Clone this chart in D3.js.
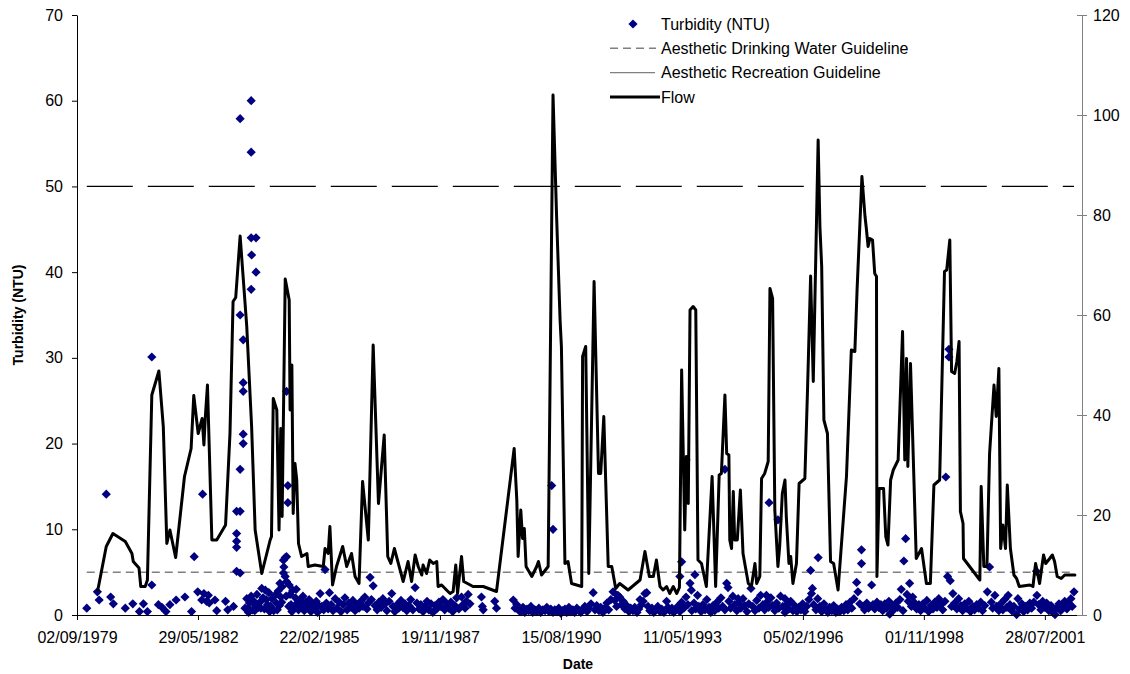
<!DOCTYPE html>
<html>
<head>
<meta charset="utf-8">
<script src="https://cdn.jsdelivr.net/npm/d3@7"></script>
<style>
  body { margin: 0; background: #fff; }
  svg text { font-family: "Liberation Sans", Arial, Helvetica, sans-serif; }
</style>
</head>
<body>
<svg id="chart" width="1130" height="674"></svg>
<script>
// ---------------- DATA ----------------
const xTickStart = [1979, 8, 2];      // 02/09/1979 (UTC y, m0, d)
const xTickStepDays = 1000;
const xTickCount = 9;
const xDomainEnd = [2002, 4, 31];
const turbTicks = [0, 10, 20, 30, 40, 50, 60, 70];
const flowTicks = [0, 20, 40, 60, 80, 100, 120];
const drinkingGuideline = 5;     // NTU
const recreationGuideline = 50;  // NTU
const legendLabels = ["Turbidity (NTU)", "Aesthetic Drinking Water Guideline", "Aesthetic Recreation Guideline", "Flow"];
const yTitle = "Turbidity (NTU)";
const xTitle = "Date";

// flow: [decimal year, flow]
const flow = [
[1980.14,5],[1980.33,13.7],[1980.48,16.3],[1980.76,14.7],[1980.91,12.3],[1980.94,10.7],[1981.07,9.4],[1981.11,5.7],[1981.21,5.7],[1981.26,7],
[1981.36,44],[1981.52,48.8],[1981.62,37.7],[1981.70,14.3],[1981.77,17],[1981.90,11.5],[1982.10,27.7],[1982.25,33.3],[1982.31,43.9],[1982.41,36.3],
[1982.50,39.3],[1982.54,34],[1982.57,39.3],[1982.62,46],[1982.72,15],[1982.83,15],[1983.03,18],[1983.13,36.3],[1983.20,62.7],[1983.26,63.5],
[1983.36,75.8],[1983.51,57.7],[1983.62,37.7],[1983.70,17],[1983.85,8.3],[1984.04,15],[1984.07,15.7],[1984.11,43.3],[1984.19,41],[1984.24,17],
[1984.28,37.3],[1984.31,19.7],[1984.38,67.2],[1984.47,63],[1984.49,41],[1984.53,50],[1984.56,20.3],[1984.60,30.3],[1984.64,27],[1984.68,14.3],
[1984.75,11.7],[1984.87,12.3],[1984.90,9.7],[1985.05,10],[1985.24,9.7],[1985.28,13.3],[1985.35,12.3],[1985.39,17.7],[1985.45,6],[1985.54,9.7],
[1985.68,13.7],[1985.77,9.7],[1985.88,12.3],[1985.96,7.7],[1986.05,6.3],[1986.13,26.7],[1986.26,15],[1986.37,54],[1986.49,22.3],[1986.62,36],
[1986.70,11.7],[1986.77,10.3],[1986.85,13.3],[1987.05,6.7],[1987.16,10.7],[1987.24,6.7],[1987.32,12],[1987.39,9.7],[1987.47,8],[1987.50,10],
[1987.58,8.3],[1987.65,11],[1987.73,10.3],[1987.81,10.7],[1987.84,5.7],[1987.92,6],[1988.03,5],[1988.11,4.3],[1988.18,4.7],[1988.24,10],
[1988.28,4.3],[1988.37,11.7],[1988.42,6.7],[1988.63,5.7],[1988.86,5.7],[1989.16,4.7],[1989.56,33.3],[1989.62,23],[1989.65,11.7],[1989.71,21],
[1989.75,15.3],[1989.79,17.3],[1989.83,9.7],[1989.96,7.7],[1990.07,9.7],[1990.11,10.7],[1990.18,8],[1990.33,9.7],[1990.44,104],[1990.52,80],
[1990.60,59],[1990.63,53.7],[1990.71,10.3],[1990.78,10.7],[1990.86,6.3],[1991.09,5.7],[1991.11,51.7],[1991.18,53.7],[1991.25,8.3],[1991.37,66.7],
[1991.47,28.3],[1991.52,28.3],[1991.59,39.7],[1991.69,9.7],[1991.77,9.7],[1991.86,5.3],[1991.95,6.3],[1992.14,5],[1992.41,7],[1992.52,12.7],
[1992.62,7.7],[1992.71,7.7],[1992.78,11],[1992.86,5.7],[1992.93,5],[1993.01,5.7],[1993.08,4.3],[1993.16,5.7],[1993.24,4.3],[1993.30,5.5],
[1993.35,49],[1993.42,17],[1993.46,31.7],[1993.50,22.3],[1993.54,61],[1993.61,61.7],[1993.67,61],[1993.72,11],[1993.80,10.3],[1993.91,5.7],
[1994.04,27.7],[1994.12,5.7],[1994.20,28],[1994.25,28.3],[1994.33,44],[1994.37,32.3],[1994.42,32],[1994.44,15],[1994.48,13.3],[1994.52,24.7],
[1994.55,15],[1994.61,15],[1994.68,25],[1994.74,12.3],[1994.86,6.3],[1994.93,5.7],[1995.01,10.3],[1995.05,6.3],[1995.12,7.7],[1995.16,27.3],
[1995.23,28.3],[1995.31,30.7],[1995.35,65.3],[1995.41,63.3],[1995.46,21],[1995.53,9.7],[1995.57,13.7],[1995.63,24.3],[1995.69,27],[1995.72,19.7],
[1995.78,10.3],[1995.82,11.7],[1995.87,6.3],[1995.95,10.3],[1996.01,26.3],[1996.14,27.3],[1996.20,45],[1996.27,67.8],[1996.33,46.7],[1996.44,95],
[1996.48,77.7],[1996.52,69.7],[1996.57,39],[1996.65,36.3],[1996.72,10.7],[1996.79,10.3],[1996.89,5],[1997.08,27.7],[1997.19,53],[1997.27,52.7],
[1997.32,65],[1997.43,87.7],[1997.50,79.7],[1997.53,77.3],[1997.57,73.7],[1997.61,75.3],[1997.67,75],[1997.72,68.3],[1997.76,67.7],[1997.77,7.7],
[1997.82,25.3],[1997.92,25.3],[1997.97,15.7],[1998.02,14],[1998.08,27],[1998.14,29],[1998.25,31],[1998.35,56.7],[1998.40,31],[1998.44,51.3],
[1998.47,29.7],[1998.53,50.3],[1998.66,11.3],[1998.78,13.3],[1998.89,6.3],[1998.98,6.3],[1999.06,26],[1999.19,27],[1999.30,68.7],[1999.35,69],
[1999.42,75],[1999.46,48.7],[1999.53,48.3],[1999.58,50.7],[1999.63,54.7],[1999.66,20.7],[1999.72,18.3],[1999.73,11.3],[2000.10,7],[2000.13,25.7],
[2000.19,9.7],[2000.26,9.7],[2000.32,32.3],[2000.42,46],[2000.47,39.7],[2000.53,49.3],[2000.57,13.3],[2000.62,18],[2000.68,13.3],[2000.72,26],
[2000.79,13.3],[2000.87,8],[2000.93,7.3],[2000.99,5.7],[2001.23,6],[2001.30,5.7],[2001.36,10.3],[2001.45,6.3],[2001.54,12],[2001.59,10.3],
[2001.68,11.3],[2001.74,12],[2001.79,10.7],[2001.85,7.7],[2001.94,7.3],[2002.02,8],[2002.25,8]
];

// turbidity: [decimal year, NTU]
const turbidity = [
[1979.89,0.8],[1980.13,2.7],[1980.17,1.75],[1980.33,14.1],[1980.43,2.1],[1980.49,1.3],[1980.76,0.8],[1980.93,1.3],[1981.08,0.4],[1981.17,1.3],
[1981.26,0.4],[1981.36,30.1],[1981.36,3.5],[1981.51,1.2],[1981.59,0.9],[1981.68,0.4],[1981.77,1.2],[1981.91,1.75],[1982.11,2.1],[1982.26,0.4],
[1982.32,6.8],[1982.40,2.7],[1982.49,1.75],[1982.51,14.1],[1982.54,2.5],[1982.60,1.6],[1982.64,2.3],[1982.66,1.4],[1982.79,1.75],[1982.83,0.5],
[1983.03,1.6],[1983.08,0.6],[1983.21,1.0],
[1983.28,12.1],[1983.28,9.5],[1983.28,8.6],[1983.28,7.9],[1983.28,5.1],[1983.36,4.9],[1983.36,12.1],[1983.36,17],[1983.36,35],[1983.36,57.9],
[1983.43,20],[1983.43,21.1],[1983.43,26.1],[1983.43,27.1],[1983.43,32.1],[1983.61,60],[1983.61,54],[1983.61,44],[1983.61,38],[1983.62,42],
[1983.72,44],[1983.72,40],
[1983.47,0.8],[1983.51,1.9],[1983.54,0.8],[1983.55,0.3],[1983.57,1.4],[1983.61,2.2],[1983.64,0.6],[1983.67,1.6],[1983.69,0.5],[1983.71,1.1],
[1983.74,2.4],[1983.78,0.9],[1983.81,1.5],[1983.83,0.8],[1983.85,3.1],[1983.88,2.0],[1983.91,0.7],[1983.93,2.9],[1983.95,1.8],[1983.98,1.2],
[1984.01,2.6],[1984.03,0.4],[1984.05,1.0],[1984.08,1.9],[1984.12,0.5],[1984.15,2.3],[1984.18,1.4],[1984.20,0.6],[1984.22,2.8],[1984.25,1.1],
[1984.26,3.7],[1984.28,2.1],[1984.30,1.5],[1984.31,3.3],[1984.34,6.4],[1984.34,4.9],[1984.35,5.6],[1984.38,4.5],[1984.38,6.7],[1984.40,2.2],
[1984.41,3.9],[1984.41,6.8],[1984.41,26.1],[1984.44,13.1],[1984.44,15.1],[1984.46,1.0],[1984.47,3.5],[1984.49,2.4],[1984.51,1.2],[1984.53,0.4],
[1984.55,2.9],[1984.58,0.9],[1984.61,2.0],[1984.63,3.0],[1984.65,1.4],[1984.68,0.6],[1984.71,1.7],
[1984.74,1.1],[1984.78,2.2],[1984.81,0.5],[1984.85,1.5],[1984.88,0.9],[1984.92,1.8],[1984.96,0.4],[1984.99,1.3],[1985.03,0.8],[1985.08,1.6],
[1985.11,0.3],[1985.14,1.1],[1985.17,2.5],[1985.21,1.0],[1985.25,0.6],[1985.28,5.3],[1985.31,1.4],[1985.35,0.7],[1985.38,2.6],[1985.42,1.2],
[1985.46,0.5],[1985.51,1.9],[1985.55,0.8],[1985.60,1.5],[1985.64,0.4],[1985.69,1.2],[1985.73,2.0],[1985.78,0.6],[1985.82,1.4],[1985.87,0.9],
[1985.91,1.7],[1985.96,0.5],[1986.00,1.2],[1986.05,0.8],[1986.09,1.6],[1986.14,1.0],[1986.18,2.1],[1986.23,0.7],[1986.26,1.4],[1986.30,4.4],
[1986.33,1.8],[1986.37,3.4],[1986.41,1.1],[1986.46,0.6],[1986.50,1.5],[1986.55,0.9],[1986.59,1.9],[1986.64,1.3],[1986.68,0.5],[1986.73,1.6],
[1986.79,2.5],[1986.82,1.0],[1986.86,0.4],[1986.91,1.2],[1986.95,0.8],[1987.00,1.7],[1987.04,0.9],[1987.09,1.3],[1987.13,0.5],[1987.18,1.1],
[1987.22,1.8],[1987.27,0.6],[1987.32,3.2],[1987.36,1.4],[1987.41,0.7],[1987.45,1.2],[1987.50,0.4],[1987.54,1.0],[1987.59,1.6],[1987.63,0.6],
[1987.68,1.3],[1987.72,0.3],[1987.77,1.1],[1987.81,0.7],[1987.86,1.5],
[1987.90,1.0],[1987.95,1.8],[1987.99,0.6],[1988.04,1.3],[1988.08,0.8],[1988.13,1.5],[1988.17,0.4],[1988.22,1.1],[1988.26,2.0],[1988.31,0.7],
[1988.37,2.1],[1988.40,1.2],[1988.45,0.8],[1988.48,1.6],[1988.52,2.4],[1988.56,1.3],[1988.82,2.1],[1988.84,1.0],[1988.86,0.6],[1989.12,1.6],
[1989.16,0.8],[1989.54,1.75],[1989.58,0.8],[1989.62,1.2],[1989.67,0.5],
[1989.71,0.4],[1989.76,0.9],[1989.80,0.3],[1989.85,0.7],[1989.89,0.5],[1989.94,1.0],[1989.98,0.3],[1990.03,0.6],[1990.07,0.4],[1990.12,0.8],
[1990.16,0.3],[1990.21,0.6],[1990.26,0.5],[1990.30,0.9],[1990.35,0.4],[1990.39,0.7],[1990.41,15.1],[1990.44,0.3],[1990.44,10.0],[1990.48,0.6],
[1990.53,0.4],[1990.57,0.8],[1990.62,0.2],[1990.66,0.5],[1990.71,0.7],[1990.75,0.3],[1990.80,0.9],[1990.84,0.4],[1990.89,0.6],[1990.93,0.3],
[1990.98,0.8],[1991.03,0.5],[1991.07,0.3],[1991.12,0.7],[1991.16,1.0],[1991.21,0.4],[1991.25,0.8],[1991.30,1.3],[1991.35,2.6],[1991.39,0.6],
[1991.43,1.1],[1991.48,0.5],[1991.52,0.9],[1991.57,0.3],[1991.61,0.8],[1991.66,1.4],[1991.70,0.6],[1991.75,1.8],[1991.80,2.7],[1991.84,1.7],
[1991.88,1.0],[1991.91,2.3],[1991.95,2.1],[1991.99,1.2],[1992.03,1.6],[1992.07,0.7],[1992.11,1.1],[1992.16,0.4],[1992.20,0.8],[1992.25,0.5],
[1992.29,0.9],[1992.34,0.3],[1992.38,0.7],[1992.41,1.8],[1992.44,1.2],[1992.48,1.6],[1992.52,2.5],[1992.56,2.6],[1992.59,1.0],[1992.63,0.5],
[1992.68,0.8],[1992.72,0.3],[1992.77,0.6],[1992.81,1.0],[1992.86,0.4],[1992.90,0.7],[1992.95,0.3],[1993.01,1.6],[1993.04,0.9],[1993.08,0.5],
[1993.13,0.8],[1993.17,0.3],[1993.22,0.6],[1993.26,1.0],[1993.31,0.4],
[1993.31,4.5],[1993.35,6.2],[1993.35,1.5],[1993.40,0.8],[1993.45,18.1],[1993.45,2.1],[1993.49,1.2],[1993.54,3.7],[1993.57,2.9],[1993.58,0.5],
[1993.63,1.4],[1993.65,4.7],[1993.67,0.7],[1993.71,2.3],[1993.74,1.0],[1993.79,0.4],[1993.83,1.2],[1993.88,0.6],[1993.92,1.8],[1993.97,0.9],
[1994.01,0.3],[1994.06,1.1],[1994.10,0.5],[1994.15,1.5],[1994.19,0.8],[1994.24,2.0],[1994.28,1.0],[1994.33,17.0],[1994.33,0.6],[1994.37,3.7],
[1994.40,3.2],[1994.42,1.6],[1994.46,0.8],[1994.51,2.2],[1994.55,1.2],[1994.60,0.5],[1994.63,1.9],[1994.64,1.4],[1994.69,0.8],[1994.74,1.9],
[1994.78,1.1],[1994.83,0.4],[1994.87,1.3],[1994.92,3.1],[1994.96,1.0],[1995.01,0.5],[1995.05,1.7],[1995.10,0.8],[1995.14,2.3],[1995.19,1.2],
[1995.23,0.6],[1995.27,2.3],[1995.28,1.5],[1995.32,0.9],[1995.33,13.1],[1995.37,2.0],[1995.41,1.1],[1995.46,0.5],[1995.50,1.4],[1995.53,11.1],
[1995.55,0.8],[1995.59,2.2],[1995.64,1.0],[1995.69,0.3],[1995.69,1.9],[1995.73,1.2],[1995.78,0.7],[1995.82,1.6],[1995.87,0.5],[1995.91,1.1],
[1995.96,0.4],[1996.00,0.9],
[1996.05,0.6],[1996.09,1.3],[1996.14,0.4],[1996.18,1.0],[1996.23,1.8],[1996.27,5.2],[1996.29,2.5],[1996.31,3.1],[1996.34,1.2],[1996.39,0.6],
[1996.43,1.9],[1996.44,6.7],[1996.48,1.0],[1996.52,0.4],[1996.57,1.3],[1996.61,0.7],[1996.66,0.3],[1996.70,0.9],[1996.75,0.5],[1996.79,1.1],
[1996.84,0.3],[1996.88,0.7],[1996.93,0.4],[1996.97,0.9],[1997.02,0.5],[1997.07,1.2],[1997.11,0.6],[1997.16,1.5],[1997.20,0.8],[1997.25,1.9],
[1997.31,3.8],[1997.34,2.7],[1997.38,1.3],[1997.42,7.6],[1997.42,6.0],[1997.45,1.0],[1997.49,0.6],[1997.54,1.4],[1997.58,0.8],[1997.65,3.5],
[1997.68,1.2],[1997.72,0.7],[1997.77,1.5],[1997.81,0.9],[1997.86,1.2],[1997.90,0.5],[1997.95,1.3],[1997.99,0.8],[1998.04,1.6],[1998.06,0.1],
[1998.11,1.1],[1998.15,0.6],[1998.20,1.4],[1998.24,0.9],[1998.29,1.8],[1998.32,3.0],[1998.36,0.5],[1998.38,6.3],[1998.42,8.9],[1998.45,2.4],
[1998.48,1.6],[1998.51,3.7],[1998.55,1.0],[1998.58,2.1],[1998.63,1.4],[1998.67,0.7],[1998.72,1.2],
[1998.76,0.5],[1998.81,1.3],[1998.85,0.8],[1998.90,1.7],[1998.94,0.4],[1998.99,1.1],[1999.04,0.7],[1999.08,1.5],[1999.13,0.9],[1999.17,1.9],
[1999.22,1.2],[1999.26,0.6],[1999.31,1.6],[1999.33,16.1],[1999.37,4.5],[1999.40,31.0],[1999.40,30.1],[1999.43,4.0],[1999.46,1.0],[1999.49,2.5],
[1999.53,1.4],[1999.58,0.7],[1999.62,1.9],[1999.67,1.1],[1999.71,0.5],[1999.76,1.3],[1999.80,0.8],[1999.85,1.6],[1999.89,0.4],[1999.94,1.0],
[1999.98,0.6],[2000.03,1.2],[2000.07,0.8],[2000.12,1.5],[2000.16,0.5],[2000.21,1.1],[2000.27,2.7],[2000.32,5.6],[2000.36,1.5],[2000.39,0.8],
[2000.44,2.3],[2000.48,1.0],[2000.53,0.5],
[2000.57,1.3],[2000.62,0.6],[2000.66,1.8],[2000.71,0.9],[2000.74,2.3],[2000.78,1.2],[2000.82,0.5],[2000.87,1.0],[2000.93,0.05],[2000.96,1.9],
[2001.00,0.7],[2001.05,1.3],[2001.09,0.4],[2001.14,1.0],[2001.18,0.6],[2001.23,1.4],[2001.27,0.8],[2001.32,1.5],[2001.38,5.1],[2001.39,2.3],
[2001.43,1.2],[2001.48,0.6],[2001.52,1.6],[2001.57,0.9],[2001.61,1.4],[2001.66,0.5],[2001.71,1.1],[2001.75,0.3],[2001.80,0.05],[2001.84,0.8],
[2001.89,1.3],[2001.93,0.5],[2001.98,1.0],[2002.02,1.6],[2002.07,0.7],[2002.11,1.3],[2002.16,1.9],[2002.19,1.0],[2002.23,2.7]
];

// ---------------- CHART ----------------
const W = 1130, H = 674;
const margin = { left: 77, top: 15, right: 48, bottom: 59 };
const plotW = W - margin.left - margin.right;   // 1005
const plotH = H - margin.top - margin.bottom;   // 600

const toDate = y => {
  const Y = Math.floor(y);
  const s = Date.UTC(Y, 0, 1), e = Date.UTC(Y + 1, 0, 1);
  return new Date(s + (y - Y) * (e - s));
};

const startDate = new Date(Date.UTC(...xTickStart));
const endDate = new Date(Date.UTC(...xDomainEnd));
const x = d3.scaleUtc().domain([startDate, endDate]).range([margin.left, margin.left + plotW]);
const yL = d3.scaleLinear().domain([0, 70]).range([margin.top + plotH, margin.top]);
const yR = d3.scaleLinear().domain([0, 120]).range([margin.top + plotH, margin.top]);

const svg = d3.select("#chart");
svg.append("rect").attr("width", W).attr("height", H).attr("fill", "#fff");

const xTickVals = d3.range(xTickCount).map(k => d3.utcDay.offset(startDate, k * xTickStepDays));
const fmt = d3.utcFormat("%d/%m/%Y");

// guidelines span the turbidity sampling period
const tExt = d3.extent(turbidity, d => d[0]).map(toDate);

svg.append("line")
  .attr("x1", x(tExt[0])).attr("x2", x(tExt[1]))
  .attr("y1", yL(drinkingGuideline)).attr("y2", yL(drinkingGuideline))
  .attr("stroke", "#808080").attr("stroke-width", 1.5).attr("stroke-dasharray", "8,5");

svg.append("line")
  .attr("x1", x(tExt[0])).attr("x2", x(tExt[1]))
  .attr("y1", yL(recreationGuideline)).attr("y2", yL(recreationGuideline))
  .attr("stroke", "#000").attr("stroke-width", 1.2).attr("stroke-dasharray", "46,15");

// turbidity diamonds
const diamond = r => `M0,${-r}L${r},0L0,${r}L${-r},0Z`;
svg.append("g").selectAll("path")
  .data(turbidity).join("path")
  .attr("d", diamond(4.6))
  .attr("transform", d => `translate(${x(toDate(d[0]))},${yL(d[1])})`)
  .attr("fill", "#000080");

// flow line
const line = d3.line().x(d => x(toDate(d[0]))).y(d => yR(d[1]));
svg.append("path").datum(flow)
  .attr("d", line).attr("fill", "none")
  .attr("stroke", "#000").attr("stroke-width", 3)
  .attr("stroke-linejoin", "round").attr("stroke-linecap", "round");

// axes
const axisFont = g => g.selectAll("text").attr("font-size", 16).attr("fill", "#000")
  .attr("font-family", '"Liberation Sans", Arial, sans-serif');

const gL = svg.append("g").attr("transform", `translate(${margin.left},0)`)
  .call(d3.axisLeft(yL).tickValues(turbTicks).tickSize(5).tickSizeOuter(0).tickPadding(9))
  .call(axisFont);
gL.selectAll("path,line").attr("stroke", "#000");

const gB = svg.append("g").attr("transform", `translate(0,${margin.top + plotH})`)
  .call(d3.axisBottom(x).tickValues(xTickVals).tickFormat(fmt).tickSize(5).tickSizeOuter(0).tickPadding(12))
  .call(axisFont);
gB.selectAll("path,line").attr("stroke", "#000");

const gR = svg.append("g").attr("transform", `translate(${margin.left + plotW},0)`)
  .call(d3.axisRight(yR).tickValues(flowTicks).tickSize(5).tickSizeOuter(0).tickPadding(6))
  .call(axisFont);
gR.selectAll("path,line").attr("stroke", "#808080");
gR.selectAll(".tick line").attr("x1", -5).attr("x2", 5);

// titles
svg.append("text")
  .attr("transform", `translate(23,315) rotate(-90)`)
  .attr("text-anchor", "middle").attr("font-size", 14).attr("font-weight", "bold")
  .text(yTitle);
svg.append("text")
  .attr("x", 578).attr("y", 669)
  .attr("text-anchor", "middle").attr("font-size", 14).attr("font-weight", "bold")
  .text(xTitle);

// legend
const lg = svg.append("g");
const lgX = 661, rowsY = [24, 48.3, 72.6, 97];
lg.append("path").attr("d", diamond(4.6)).attr("transform", `translate(633,${rowsY[0]})`).attr("fill", "#000080");
lg.append("line").attr("x1", 610).attr("x2", 656).attr("y1", rowsY[1]).attr("y2", rowsY[1])
  .attr("stroke", "#808080").attr("stroke-width", 1.5).attr("stroke-dasharray", "8,5");
lg.append("line").attr("x1", 610).attr("x2", 655).attr("y1", rowsY[2]).attr("y2", rowsY[2])
  .attr("stroke", "#808080").attr("stroke-width", 1.3);
lg.append("line").attr("x1", 610).attr("x2", 660).attr("y1", rowsY[3]).attr("y2", rowsY[3])
  .attr("stroke", "#000").attr("stroke-width", 3);
lg.selectAll("text.lbl").data(legendLabels).join("text")
  .attr("class", "lbl")
  .attr("x", lgX).attr("y", (d, i) => rowsY[i] + 5.8)
  .attr("font-size", 16).attr("fill", "#000")
  .text(d => d);
</script>
</body>
</html>
